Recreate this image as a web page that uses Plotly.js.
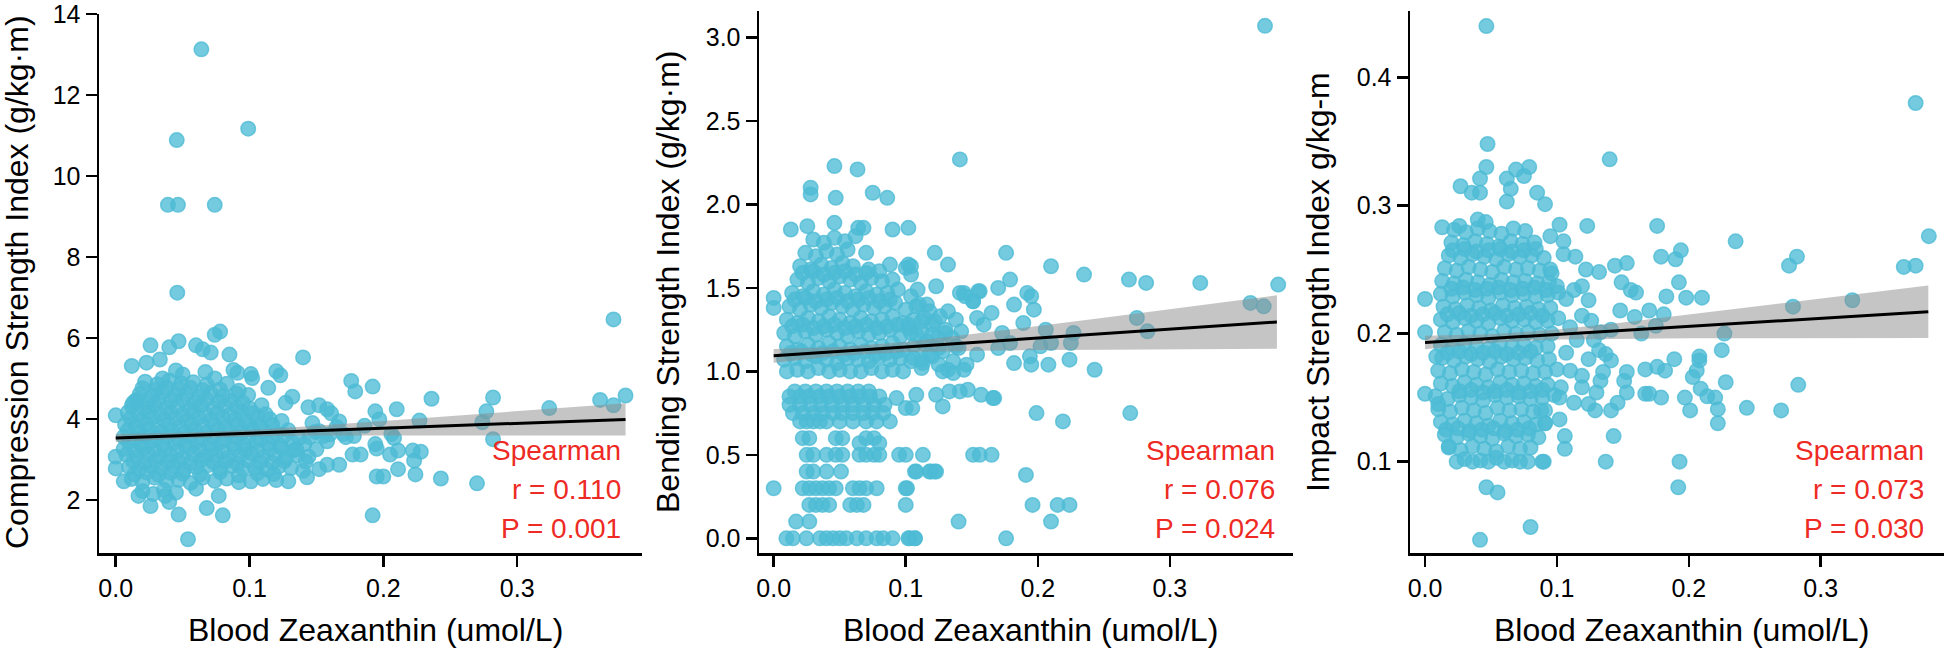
<!DOCTYPE html>
<html><head><meta charset="utf-8">
<script src="https://cdn.plot.ly/plotly-3.0.1.min.js"></script>
<style>html,body{margin:0;padding:0;background:#fff}#chart{width:1944px;height:649px}</style>
</head><body><div id="chart"></div>
<script>
// ---------- Labels ----------
const xTitle = "Blood Zeaxanthin (umol/L)";
const yTitles = ["Compression Strength Index (g/kg·m)", "Bending Strength Index (g/kg·m)", "Impact Strength Index g/kg-m"];
const statR = ["r = 0.110", "r = 0.076", "r = 0.073"];
const statP = ["P = 0.001", "P = 0.024", "P = 0.030"];
const xTicks = [0.0, 0.1, 0.2, 0.3];
const yTicks1 = [2, 4, 6, 8, 10, 12, 14];
const yTicks2 = [0.0, 0.5, 1.0, 1.5, 2.0, 2.5, 3.0];
const yTicks3 = [0.1, 0.2, 0.3, 0.4];

// ---------- Panel 1: Compression ----------
const p1CoreX = [
0.020,0.028,0.036,0.045,0.060,
0.012,0.020,0.029,0.038,0.047,0.056,0.065,0.074,0.083,0.092,0.101,0.110,0.120,
0.014,0.023,0.032,0.041,0.050,0.063,0.078,0.092,0.106,0.118,
0.010,0.018,0.026,0.034,0.043,0.051,0.060,0.069,0.078,0.087,0.095,0.104,0.113,0.122,0.131,0.140,
0.013,0.022,0.030,0.039,0.047,0.056,0.064,0.073,0.082,0.091,0.099,0.108,0.117,0.126,
0.008,0.016,0.024,0.033,0.041,0.050,0.058,0.067,0.075,0.084,0.093,0.101,0.110,0.119,0.127,0.136,
0.006,0.014,0.021,0.029,0.037,0.046,0.055,0.063,0.072,0.080,0.089,0.097,0.106,0.115,0.124,0.133,
0.010,0.019,0.027,0.035,0.044,0.052,0.061,0.070,0.079,0.088,0.096,0.105,0.114,0.123,0.132,0.141,
0.006,0.014,0.022,0.030,0.039,0.047,0.056,0.064,0.073,0.081,0.090,0.099,0.108,0.117,0.126,0.137,
0.009,0.017,0.025,0.034,0.042,0.051,0.059,0.068,0.076,0.085,0.094,0.102,0.111,0.120,0.129,
0.007,0.015,0.023,0.031,0.040,0.048,0.057,0.065,0.074,0.082,0.091,0.100,0.108,0.117,
0.011,0.019,0.028,0.036,0.045,0.053,0.062,0.071,0.080,0.089,0.097,0.106,0.115,0.124,
0.009,0.017,0.025,0.033,0.041,0.050,0.058,0.067,0.076,0.085,0.094,0.103,0.112,
0.012,0.021,0.029,0.038,0.046,0.055,0.064,0.073,0.082,0.091,0.100,0.109,
0.015,0.024,0.032,0.041,0.050,0.059,0.068,0.077,0.086,0.095,
0.018,0.027,0.035,0.044,0.053,0.062,0.071,0.080,0.090,0.099,
0.020,0.030,0.038,0.047,0.056,0.065,0.078,0.092,
0.022,0.031,0.040,0.049,0.058,0.068,0.083];
const p1CoreY = [
2.22,2.15,2.25,2.18,2.28,
2.52,2.45,2.55,2.48,2.50,2.42,2.55,2.47,2.53,2.44,2.46,2.52,2.49,
2.64,2.68,2.62,2.67,2.65,2.63,2.69,2.61,2.66,2.64,
2.82,2.76,2.85,2.79,2.83,2.74,2.81,2.86,2.77,2.84,2.78,2.80,2.75,2.83,2.79,2.72,
2.96,2.92,2.98,2.94,2.97,2.91,2.99,2.93,2.95,2.90,2.97,2.94,2.92,2.96,
3.12,3.06,3.15,3.08,3.11,3.04,3.14,3.09,3.13,3.05,3.10,3.16,3.07,3.12,3.03,3.10,
3.26,3.22,3.28,3.24,3.27,3.21,3.29,3.23,3.25,3.20,3.27,3.24,3.22,3.26,3.28,3.23,
3.42,3.36,3.45,3.38,3.41,3.35,3.44,3.37,3.43,3.39,3.36,3.44,3.40,3.35,3.42,3.38,
3.56,3.52,3.58,3.54,3.57,3.51,3.59,3.53,3.55,3.50,3.57,3.54,3.52,3.56,3.58,3.53,
3.72,3.66,3.75,3.68,3.71,3.65,3.74,3.67,3.73,3.69,3.66,3.74,3.70,3.65,3.72,
3.86,3.82,3.88,3.84,3.87,3.81,3.89,3.83,3.85,3.80,3.87,3.84,3.82,3.86,
4.02,3.96,4.05,3.98,4.01,3.95,4.04,3.97,4.03,3.99,3.96,4.04,4.00,3.95,
4.16,4.12,4.18,4.14,4.17,4.11,4.19,4.13,4.15,4.10,4.17,4.14,4.12,
4.32,4.26,4.35,4.28,4.31,4.25,4.34,4.27,4.33,4.29,4.26,4.34,
4.46,4.42,4.48,4.44,4.47,4.41,4.49,4.43,4.45,4.40,
4.62,4.56,4.65,4.58,4.61,4.55,4.64,4.57,4.63,4.59,
4.76,4.72,4.78,4.74,4.77,4.71,4.73,4.70,
4.92,4.86,4.95,4.88,4.91,4.85,4.87];
const p1HighX = [0.064,0.099,0.0456,0.039,0.0465,0.074,0.046,0.372,0.140,0.074,0.078,0.047,0.040,0.026,0.060,0.065,0.071,0.085,0.012,0.023,0.033,0.088,0.091,0.101,0.102,0.120,0.123,0.114,0.067,0.074];
const p1HighY = [13.13,11.17,10.89,9.29,9.29,9.29,7.12,6.46,5.52,6.08,6.16,5.92,5.77,5.82,5.82,5.72,5.64,5.59,5.31,5.39,5.47,5.21,5.14,5.11,5.01,5.18,5.08,4.77,5.16,5.00];
const p1RightX = [0.176,0.179,0.192,0.132,0.127,0.236,0.282,0.277,0.274,0.282,0.324,0.362,0.372,0.381,0.210,0.194,0.197,0.227,0.206,0.208,0.194,0.195,0.205,0.211,0.222,0.228,0.223,0.211,0.224,0.195,0.200,0.243,0.270,0.192];
const p1RightY = [4.94,4.68,4.80,4.55,4.40,4.50,4.53,4.19,3.92,3.50,4.27,4.47,4.34,4.58,4.24,4.19,3.99,3.96,3.63,3.53,3.38,3.27,3.12,3.22,3.22,3.19,2.97,2.76,2.63,2.58,2.58,2.53,2.41,1.62];
const p1LowX = [0.054,0.047,0.080,0.068,0.077,0.040,0.037,0.026,0.017,0.0,0.0,0.0,0.006];
const p1LowY = [1.03,1.64,1.62,1.80,2.10,1.95,2.10,1.85,2.10,4.09,3.07,2.78,2.46];
const p1MidX = [0.177,0.183,0.158,0.167,0.152,0.143,0.129,0.144,0.167,0.170,0.186,0.178,0.144,0.152,0.158,0.161,0.149,0.155,0.145,0.152,0.160,0.165,0.172,0.147,0.158,0.150,0.135,0.142,0.016,0.013,0.050,0.045,0.035];
const p1MidY = [3.12,3.12,2.87,2.87,2.76,2.56,2.46,3.07,3.94,3.63,3.83,3.58,4.29,4.34,4.24,4.14,3.68,3.58,3.55,3.70,3.62,3.80,3.55,3.90,3.45,3.25,3.25,2.95,4.45,4.40,5.10,5.20,5.00];
const p1FitX = [0.0, 0.381];
const p1FitY = [3.53, 3.99];
const p1BandX = [0.0, 0.05, 0.10, 0.15, 0.20, 0.25, 0.30, 0.35, 0.381];
const p1BandLo = [3.43, 3.52, 3.57, 3.59, 3.59, 3.59, 3.59, 3.59, 3.59];
const p1BandHi = [3.63, 3.66, 3.73, 3.83, 3.95, 4.07, 4.19, 4.31, 4.39];

// ---------- Panel 2: Bending ----------
const p2LowX = [
0.0096,0.0146,0.0248,0.035,0.040,0.045,0.050,0.055,0.063,0.070,0.078,0.083,0.090,0.102,0.107,0.176,
0.017,0.027,0.140,0.210,
0.027,0.032,0.037,0.042,0.058,0.063,0.068,0.100,0.196,0.215,0.224,
0.0,0.022,0.027,0.032,0.037,0.042,0.047,0.060,0.065,0.070,0.078,0.100,
0.025,0.030,0.040,0.051,0.107,0.118,0.123,0.191,
0.025,0.030,0.040,0.047,0.052,0.065,0.070,0.076,0.080,0.095,0.100,0.113,0.151,0.156,0.165,
0.022,0.027,0.047,0.052,0.070,0.076,0.065,0.080,
0.020,0.025,0.030,0.035,0.040,0.050,0.060,0.070,0.078,0.088,0.219,
0.0146,0.022,0.030,0.037,0.045,0.052,0.060,0.068,0.075,0.083,0.199,0.270,
0.012,0.020,0.028,0.036,0.044,0.052,0.060,0.068,0.076,0.084,0.100,0.105,0.128,
0.012,0.020,0.027,0.035,0.042,0.050,0.058,0.065,0.073,0.080,0.093,0.108,0.123,0.133,0.141,0.147,0.157,0.166,0.167,
0.016,0.024,0.032,0.040,0.048,0.056,0.064,0.072];
const p2LowY = [
0,0,0,0,0,0,0,0,0,0,0,0,0,0,0,0,
0.1,0.1,0.1,0.1,
0.2,0.2,0.2,0.2,0.2,0.2,0.2,0.2,0.2,0.2,0.2,
0.3,0.3,0.3,0.3,0.3,0.3,0.3,0.3,0.3,0.3,0.3,0.3,
0.4,0.4,0.4,0.4,0.4,0.4,0.4,0.38,
0.5,0.5,0.5,0.5,0.5,0.5,0.5,0.5,0.5,0.5,0.5,0.5,0.5,0.5,0.5,
0.6,0.6,0.6,0.6,0.6,0.6,0.57,0.57,
0.7,0.7,0.7,0.7,0.7,0.7,0.7,0.7,0.7,0.7,0.7,
0.75,0.75,0.75,0.75,0.75,0.75,0.75,0.75,0.75,0.75,0.75,0.75,
0.8,0.8,0.8,0.8,0.8,0.8,0.8,0.8,0.8,0.8,0.78,0.78,0.79,
0.85,0.85,0.85,0.85,0.85,0.85,0.85,0.85,0.85,0.85,0.84,0.86,0.86,0.88,0.88,0.89,0.86,0.84,0.84,
0.88,0.88,0.88,0.88,0.88,0.88,0.88,0.88];
const p2CoreX = [
0.010,0.018,0.026,0.034,0.042,0.050,0.058,0.066,0.074,0.082,0.090,0.098,0.112,0.128,0.132,
0.008,0.016,0.024,0.032,0.040,0.048,0.056,0.064,0.072,0.080,0.088,0.096,0.104,0.112,0.120,
0.010,0.018,0.026,0.034,0.042,0.050,0.058,0.066,0.074,0.082,0.090,0.098,0.106,0.114,0.125,0.138,
0.008,0.016,0.024,0.032,0.040,0.048,0.056,0.064,0.072,0.080,0.088,0.096,0.104,0.112,0.120,0.130,
0.010,0.018,0.026,0.034,0.042,0.050,0.058,0.066,0.074,0.082,0.090,0.098,0.106,0.114,0.122,
0.012,0.020,0.028,0.036,0.044,0.052,0.060,0.068,0.076,0.084,0.092,0.100,0.108,0.116,
0.014,0.022,0.030,0.038,0.046,0.054,0.062,0.070,0.078,0.086,0.094,0.104,
0.018,0.026,0.034,0.042,0.050,0.058,0.066,0.074,0.082,0.090,
0.020,0.028,0.036,0.044,0.052,0.060,0.072,0.088,0.100,
0.024,0.032,0.040,0.048,0.056,0.070,
0.030,0.038,0.046,0.054,0.062];
const p2CoreY = [
1.00,1.01,1.00,1.02,1.00,1.01,1.00,1.00,1.02,1.00,1.01,1.00,1.02,1.00,1.01,
1.07,1.08,1.06,1.09,1.07,1.05,1.08,1.07,1.06,1.09,1.07,1.08,1.06,1.07,1.09,
1.15,1.13,1.16,1.14,1.17,1.15,1.13,1.16,1.14,1.15,1.17,1.13,1.15,1.16,1.14,1.15,
1.23,1.21,1.24,1.22,1.25,1.23,1.21,1.24,1.22,1.23,1.25,1.21,1.23,1.24,1.22,1.23,
1.31,1.29,1.32,1.30,1.33,1.31,1.29,1.32,1.30,1.31,1.33,1.29,1.31,1.32,1.30,
1.39,1.37,1.40,1.38,1.41,1.39,1.37,1.40,1.38,1.39,1.41,1.37,1.39,1.40,
1.47,1.45,1.48,1.46,1.49,1.47,1.45,1.48,1.46,1.47,1.49,1.45,
1.55,1.53,1.56,1.54,1.57,1.55,1.53,1.56,1.54,1.55,
1.63,1.61,1.64,1.62,1.65,1.63,1.61,1.64,1.62,
1.71,1.69,1.72,1.70,1.73,1.71,
1.79,1.77,1.80,1.78,1.81];
const p2FillX = [0.013,0.021,0.029,0.037,0.045,0.053,0.061,0.069,0.077,0.085,0.093,0.014,0.022,0.030,0.038,0.046,0.054,0.062,0.070,0.078,0.086,0.094,0.102,0.016,0.024,0.032,0.040,0.048,0.056,0.064,0.072,0.080,0.088,0.022,0.030,0.038,0.046,0.054,0.062,0.070,0.080];
const p2FillY = [1.11,1.12,1.10,1.11,1.12,1.10,1.11,1.12,1.10,1.11,1.12,1.27,1.28,1.26,1.27,1.28,1.26,1.27,1.28,1.26,1.27,1.28,1.26,1.43,1.44,1.42,1.43,1.44,1.42,1.43,1.44,1.42,1.43,1.59,1.60,1.58,1.59,1.60,1.58,1.59,1.60];
const p2OutX = [0.141,0.046,0.0635,0.028,0.028,0.047,0.075,0.086,0.013,0.0255,0.046,0.064,0.068,0.090,0.102,0.122,0.132,0.176,0.210,0.235,0.269,0.282,0.323,0.382,0.372,0.361,0.371,0.275,0.283,0.179,0.170,0.192,0.195,0.182,0.197,0.189,0.206,0.227,0.225,0.202,0.210,0.194,0.182,0.195,0.208,0.224,0.243,0.173,0.179,0.170,0.144,0.155,0.151,0.165,0.154,0.159,0.154,0.144,0.123,0.136,0.0,0.0,0.101,0.108,0.119,0.122,0.103,0.107];
const p2OutY = [2.27,2.23,2.21,2.10,2.06,2.04,2.07,2.04,1.85,1.87,1.89,1.86,1.86,1.85,1.86,1.71,1.64,1.71,1.63,1.58,1.55,1.53,1.53,1.52,3.07,1.41,1.39,1.32,1.24,1.55,1.50,1.47,1.45,1.40,1.37,1.29,1.25,1.23,1.17,1.15,1.17,1.09,1.05,1.04,1.04,1.07,1.01,1.23,1.17,1.14,1.47,1.48,1.42,1.35,1.32,1.28,1.10,1.01,1.51,0.99,1.44,1.38,0.30,0.40,0.40,0.40,0.0,0.0];
const p2MidX = [0.141,0.145,0.151,0.156,0.109,0.104,0.104,0.102,0.110,0.118,0.112,0.120,0.126,0.130,0.135,0.124,0.116,0.108,0.102,0.128,0.118,0.136,0.140,0.142,0.146,0.106,0.113,0.125,0.132,0.138];
const p2MidY = [1.47,1.45,1.42,1.48,1.49,1.63,1.58,1.64,1.40,1.36,1.30,1.28,1.33,1.25,1.20,1.20,1.18,1.22,1.28,1.12,1.10,1.06,1.14,1.24,1.04,1.08,1.05,1.04,1.36,1.31];
const p2FitX = [0.0, 0.381];
const p2FitY = [1.093, 1.296];
const p2BandX = [0.0, 0.05, 0.10, 0.15, 0.20, 0.25, 0.30, 0.35, 0.381];
const p2BandLo = [1.052, 1.094, 1.116, 1.124, 1.128, 1.130, 1.133, 1.135, 1.136];
const p2BandHi = [1.134, 1.146, 1.176, 1.222, 1.272, 1.322, 1.373, 1.425, 1.456];

// ---------- Panel 3: Impact ----------
const p3CoreX = [
0.024,0.030,0.036,0.042,0.048,0.054,0.060,0.066,0.072,0.078,0.090,
0.018,0.027,0.036,0.045,0.054,0.063,0.072,0.080,
0.015,0.024,0.033,0.042,0.051,0.060,0.069,0.078,0.086,
0.012,0.021,0.030,0.039,0.048,0.057,0.066,0.075,0.084,0.091,
0.010,0.019,0.028,0.037,0.046,0.055,0.064,0.073,0.082,0.091,
0.008,0.017,0.026,0.035,0.044,0.053,0.062,0.071,0.080,0.089,0.098,
0.012,0.021,0.030,0.039,0.048,0.057,0.066,0.075,0.084,0.093,
0.010,0.019,0.028,0.037,0.046,0.055,0.064,0.073,0.082,0.091,0.100,
0.013,0.022,0.031,0.040,0.049,0.058,0.067,0.076,0.085,0.094,
0.012,0.021,0.030,0.039,0.048,0.057,0.066,0.075,0.084,0.093,
0.015,0.024,0.033,0.042,0.051,0.060,0.069,0.078,0.087,0.096,
0.012,0.021,0.030,0.039,0.048,0.057,0.066,0.075,0.084,0.093,0.101,
0.014,0.023,0.032,0.041,0.050,0.059,0.068,0.077,0.086,0.095,
0.012,0.021,0.030,0.039,0.048,0.057,0.066,0.075,0.084,0.093,0.101,
0.013,0.022,0.031,0.040,0.049,0.058,0.067,0.076,0.085,0.094,
0.015,0.024,0.033,0.042,0.051,0.060,0.069,0.078,0.087,0.095,
0.018,0.027,0.036,0.045,0.054,0.063,0.072,0.081,0.090,
0.020,0.029,0.038,0.047,0.056,0.065,0.074,0.083,
0.022,0.031,0.040,0.049,0.058,0.067,0.076,
0.040,0.046];
const p3CoreY = [
0.100,0.102,0.100,0.101,0.100,0.103,0.100,0.101,0.100,0.100,0.100,
0.111,0.109,0.112,0.110,0.108,0.112,0.110,0.111,
0.121,0.119,0.122,0.120,0.118,0.122,0.120,0.121,0.119,
0.131,0.129,0.132,0.130,0.128,0.132,0.130,0.131,0.129,0.130,
0.141,0.139,0.142,0.140,0.138,0.142,0.140,0.141,0.139,0.140,
0.151,0.149,0.152,0.150,0.148,0.152,0.150,0.151,0.149,0.150,0.152,
0.161,0.159,0.162,0.160,0.158,0.162,0.160,0.161,0.159,0.160,
0.171,0.169,0.172,0.170,0.168,0.172,0.170,0.171,0.169,0.170,0.172,
0.181,0.179,0.182,0.180,0.178,0.182,0.180,0.181,0.179,0.180,
0.191,0.189,0.192,0.190,0.188,0.192,0.190,0.191,0.189,0.190,
0.201,0.199,0.202,0.200,0.198,0.202,0.200,0.201,0.199,0.200,
0.211,0.209,0.212,0.210,0.208,0.212,0.210,0.211,0.209,0.210,0.212,
0.221,0.219,0.222,0.220,0.218,0.222,0.220,0.221,0.219,0.220,
0.231,0.229,0.232,0.230,0.228,0.232,0.230,0.231,0.229,0.230,0.232,
0.241,0.239,0.242,0.240,0.238,0.242,0.240,0.241,0.239,0.240,
0.251,0.249,0.252,0.250,0.248,0.252,0.250,0.251,0.249,0.250,
0.261,0.259,0.262,0.260,0.258,0.262,0.260,0.261,0.259,
0.271,0.269,0.272,0.270,0.268,0.272,0.270,0.271,
0.281,0.279,0.282,0.280,0.278,0.282,0.280,
0.289,0.287];
const p3FillX = [0.016,0.025,0.034,0.043,0.052,0.061,0.070,0.079,0.026,0.035,0.044,0.053,0.062,0.071,0.080,0.089,0.017,0.026,0.035,0.044,0.053,0.062,0.071,0.080,0.020,0.029,0.038,0.047,0.056,0.065,0.074,0.083,0.092,0.017,0.026,0.035,0.044,0.053,0.062,0.071,0.080,0.089,0.021,0.030,0.039,0.048,0.057,0.066,0.075,0.084];
const p3FillY = [0.125,0.126,0.124,0.125,0.126,0.124,0.125,0.126,0.155,0.156,0.154,0.155,0.156,0.154,0.155,0.156,0.185,0.186,0.184,0.185,0.186,0.184,0.185,0.186,0.235,0.236,0.234,0.235,0.236,0.234,0.235,0.236,0.234,0.215,0.216,0.214,0.215,0.216,0.214,0.215,0.216,0.214,0.265,0.266,0.264,0.265,0.266,0.264,0.265,0.266];
const p3HighX = [0.0465,0.372,0.0474,0.140,0.0465,0.0417,0.0354,0.0417,0.0269,0.062,0.065,0.062,0.069,0.075,0.079,0.085,0.091,0.013,0.026,0.102,0.123,0.176,0.2355,0.382,0.282,0.276,0.363,0.372,0.179,0.190,0.194,0.095,0.105,0.105,0.114,0.144,0.153,0.122,0.132,0.149,0.156,0.160,0.1925,0.198,0.183,0.210,0.324,0.279];
const p3HighY = [0.440,0.380,0.348,0.336,0.330,0.321,0.310,0.310,0.315,0.321,0.313,0.303,0.328,0.323,0.330,0.310,0.301,0.283,0.284,0.285,0.284,0.284,0.272,0.276,0.260,0.253,0.252,0.253,0.260,0.258,0.265,0.276,0.272,0.262,0.260,0.253,0.255,0.250,0.248,0.240,0.234,0.232,0.240,0.228,0.229,0.228,0.226,0.221];
const p3LowX = [0.148,0.159,0.170,0.181,0.175,0.164,0.141,0.133,0.227,0.225,0.208,0.208,0.189,0.206,0.203,0.228,0.176,0.182,0.167,0.153,0.151,0.153,0.167,0.170,0.209,0.214,0.220,0.179,0.197,0.222,0.222,0.201,0.244,0.270,0.283,0.141,0.146,0.129,0.124,0.143,0.137,0.193,0.192,0.106,0.106,0.089,0.0465,0.055,0.080,0.0417,0.0,0.0,0.0,0.0085,0.010,0.018];
const p3LowY = [0.218,0.213,0.218,0.215,0.206,0.200,0.203,0.201,0.200,0.187,0.182,0.179,0.180,0.171,0.166,0.162,0.174,0.171,0.172,0.170,0.163,0.154,0.153,0.153,0.157,0.151,0.150,0.150,0.150,0.141,0.130,0.140,0.142,0.140,0.160,0.140,0.146,0.140,0.145,0.120,0.100,0.100,0.080,0.120,0.110,0.100,0.080,0.076,0.049,0.039,0.227,0.201,0.153,0.182,0.145,0.112];
const p3MidX = [0.102,0.091,0.088,0.132,0.137,0.141,0.124,0.107,0.110,0.119,0.103,0.102,0.113,0.119,0.130,0.133,0.119,0.124,0.126,0.107,0.113,0.119,0.096,0.100,0.115,0.128,0.110,0.135];
const p3MidY = [0.133,0.130,0.140,0.187,0.184,0.179,0.180,0.185,0.171,0.167,0.158,0.150,0.146,0.158,0.154,0.163,0.214,0.226,0.210,0.227,0.234,0.237,0.247,0.237,0.195,0.195,0.205,0.170];
const p3FitX = [0.0, 0.3816];
const p3FitY = [0.193, 0.217];
const p3BandX = [0.0, 0.05, 0.10, 0.15, 0.20, 0.25, 0.30, 0.35, 0.3816];
const p3BandLo = [0.1878, 0.1928, 0.1954, 0.1961, 0.1964, 0.1964, 0.1965, 0.1965, 0.1965];
const p3BandHi = [0.1982, 0.1994, 0.2032, 0.2087, 0.2148, 0.2210, 0.2273, 0.2335, 0.2375];

// ---------- Build ----------
const W = 1944, H = 649;
const FONT = "Liberation Sans, Arial, Helvetica, sans-serif";
const PT = "rgba(77,187,213,0.78)";
const fx = v => v / W, fy = v => 1 - v / H;

const panels = [
  {xs:[p1CoreX,p1HighX,p1RightX,p1LowX,p1MidX], ys:[p1CoreY,p1HighY,p1RightY,p1LowY,p1MidY],
   fitX:p1FitX, fitY:p1FitY, bx:p1BandX, lo:p1BandLo, hi:p1BandHi,
   dom:[99,642], top:14, xr:[-0.0125,0.3933], yr:[0.69,14.003], yt:yTicks1, yf:"d",
   ytx:17, xtx:375, sx:623},
  {xs:[p2LowX,p2CoreX,p2FillX,p2OutX,p2MidX], ys:[p2LowY,p2CoreY,p2FillY,p2OutY,p2MidY],
   fitX:p2FitX, fitY:p2FitY, bx:p2BandX, lo:p2BandLo, hi:p2BandHi,
   dom:[759,1293], top:11, xr:[-0.0111,0.3932], yr:[-0.088,3.159], yt:yTicks2, yf:".1f",
   ytx:668, xtx:1030, sx:1277},
  {xs:[p3CoreX,p3FillX,p3HighX,p3LowX,p3MidX], ys:[p3CoreY,p3FillY,p3HighY,p3LowY,p3MidY],
   fitX:p3FitX, fitY:p3FitY, bx:p3BandX, lo:p3BandLo, hi:p3BandHi,
   dom:[1410,1944], top:11, xr:[-0.0114,0.3935], yr:[0.0287,0.4518], yt:yTicks3, yf:".1f",
   ytx:1318, xtx:1681, sx:1926}
];

const data = [];
const layout = {
  width: W, height: H, margin:{l:0,r:0,t:0,b:0},
  paper_bgcolor:"#fff", plot_bgcolor:"#fff", showlegend:false,
  font:{family:FONT, color:"#000"}, annotations:[]
};

panels.forEach((p, i) => {
  const n = i === 0 ? "" : String(i + 1);
  const xa = "x" + n, ya = "y" + n;
  data.push({type:"scatter", mode:"markers", xaxis:xa, yaxis:ya,
    x:[].concat(...p.xs), y:[].concat(...p.ys), hoverinfo:"skip",
    marker:{size:14.5, color:PT, line:{color:PT, width:1.5}}});
  data.push({type:"scatter", mode:"lines", xaxis:xa, yaxis:ya, x:p.bx, y:p.lo,
    line:{width:0, color:"rgba(0,0,0,0)"}, hoverinfo:"skip"});
  data.push({type:"scatter", mode:"lines", xaxis:xa, yaxis:ya, x:p.bx, y:p.hi,
    fill:"tonexty", fillcolor:"rgba(140,140,140,0.5)",
    line:{width:0, color:"rgba(0,0,0,0)"}, hoverinfo:"skip"});
  data.push({type:"scatter", mode:"lines", xaxis:xa, yaxis:ya, x:p.fitX, y:p.fitY,
    line:{width:3, color:"#000"}, hoverinfo:"skip"});

  const common = {showline:true, linecolor:"#000", linewidth:2.5, ticks:"outside",
    ticklen:11, tickwidth:2.5, tickcolor:"#000", showgrid:false, zeroline:false,
    ticklabeloverflow:"allow",
    tickfont:{family:FONT, size:25, color:"#000"}, fixedrange:true};
  layout["xaxis" + n] = Object.assign({}, common, {anchor:ya, domain:[fx(p.dom[0]), Math.min(1, fx(p.dom[1]))],
    range:p.xr, tickvals:xTicks, tickformat:".1f"});
  layout["yaxis" + n] = Object.assign({}, common, {anchor:xa, domain:[fy(553), fy(p.top)],
    range:p.yr, tickvals:p.yt, tickformat:p.yf});

  layout.annotations.push({xref:"paper", yref:"paper", x:fx(p.ytx), y:fy(282), text:yTitles[i],
    textangle:-90, showarrow:false, xanchor:"center", yanchor:"middle", font:{size:32, color:"#000"}});
  layout.annotations.push({xref:"paper", yref:"paper", x:fx(p.xtx), y:fy(630), text:xTitle,
    showarrow:false, xanchor:"center", yanchor:"middle", font:{size:32, color:"#000"}});
  [["Spearman",450],[statR[i],489],[statP[i],528]].forEach(([t, yy]) => {
    layout.annotations.push({xref:"paper", yref:"paper", x:fx(p.sx), y:fy(yy), text:t,
      showarrow:false, xanchor:"right", yanchor:"middle", font:{size:28, color:"#EE2A24"}});
  });
});

Plotly.newPlot("chart", data, layout, {staticPlot:true, displayModeBar:false});
</script></body></html>
